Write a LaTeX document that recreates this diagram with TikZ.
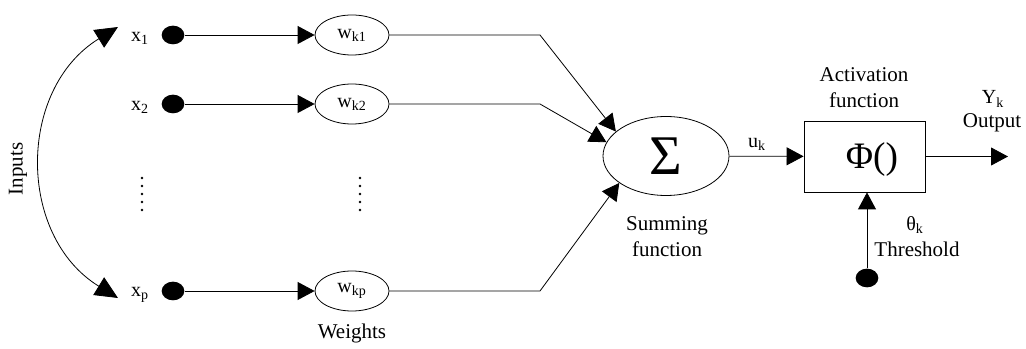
\documentclass[tikz,border=0pt]{standalone}
\usepackage{fontspec}
\setmainfont{Liberation Serif}
\usetikzlibrary{arrows.meta,shapes.geometric,positioning}

\tikzset{
  arr/.style={-{Triangle[length=12.75pt,width=13.5pt]}},
  bigarr/.style={{Triangle[length=17pt,width=15.5pt]}-{Triangle[length=17pt,width=15.5pt]}},
  indot/.style={ellipse,fill=black,minimum width=17pt,minimum height=14pt,inner sep=0pt},
  weight/.style={ellipse,draw,minimum width=55.5pt,minimum height=30pt,inner sep=0pt,
    font=\fontsize{15}{17}\selectfont},
  xlbl/.style={font=\fontsize{15}{17}\selectfont,inner sep=0pt},
  lbl/.style={font=\fontsize{15.75}{19.5}\selectfont,align=center,inner sep=0pt},
}

\begin{document}
\begin{tikzpicture}[x=0.75pt,y=-0.75pt,line width=0.6pt]
  \useasboundingbox (0,0) rectangle (1026,349);

  % inputs
  \node[indot] (d1) at (173,35) {};
  \node[indot] (d2) at (173,104) {};
  \node[indot] (dp) at (173,291) {};
  \node[xlbl] (x1) at (140,38) {x\textsubscript{1}};
  \node[xlbl] (x2) at (140,107) {x\textsubscript{2}};
  \node[xlbl] (xp) at (140,295) {x\textsubscript{p}};
  \node[lbl,rotate=90] (inlbl) at (18,169) {Inputs};

  \coordinate (intop) at (118,27);
  \coordinate (inbot) at (118,298);
  \draw[bigarr] (intop) .. controls (17,89) and (17,236) .. (inbot);

  % weights
  \node[weight] (wk1) at (352,35) {w\textsubscript{k1}};
  \node[weight] (wk2) at (352,104) {w\textsubscript{k2}};
  \node[weight] (wkp) at (352,291) {w\textsubscript{kp}};
  \node[lbl] (wlbl) at (352,333) {Weights};

  \foreach \y in {178,186,...,210} {
    \fill (142,\y) circle (1.3);
    \fill (360,\y) circle (1.3);
  }

  \draw[arr] (d1) -- (wk1);
  \draw[arr] (d2) -- (wk2);
  \draw[arr] (dp) -- (wkp);

  % summing
  \node[ellipse,draw,minimum width=94.5pt,minimum height=59.25pt,inner sep=0pt] (sum) at (666,156)
    {\fontsize{42}{42}\selectfont Σ};
  \node[lbl] (sumlbl) at (667,237) {Summing\\function};

  \coordinate (knee) at (540,0);
  \draw[arr] (wk1) -- (wk1 -| knee) -- (sum.154);
  \draw[arr] (wk2) -- (wk2 -| knee) -- (sum.167);
  \draw[arr] (wkp) -- (wkp -| knee) -- (sum.210);

  % activation
  \node[draw,minimum width=90.75pt,minimum height=53.25pt,inner sep=0pt] (act) at (864.5,156.5) {};
  \node[inner sep=0pt,font=\fontsize{28}{28}\selectfont] (phi) at (872,160) {Φ()};
  \node[lbl] (actlbl) at (864,88) {Activation\\function};

  \draw[arr] (sum) -- (act);
  \node[xlbl] (uk) at (757,144) {u\textsubscript{k}};

  \coordinate (yout) at (1008,156);
  \draw[arr] (act.east) -- (act.east -| yout);
  \node[xlbl] (yk) at (993,99) {Y\textsubscript{k}};
  \node[lbl] (outlbl) at (992,123) {Output};

  % threshold
  \node[indot] (thdot) at (867,278) {};
  \draw[arr] (thdot) -- (thdot |- act.south);
  \node[xlbl] (thk) at (915,225) {θ\textsubscript{k}};
  \node[lbl] (thlbl) at (917,249) {Threshold};
\end{tikzpicture}
\end{document}
